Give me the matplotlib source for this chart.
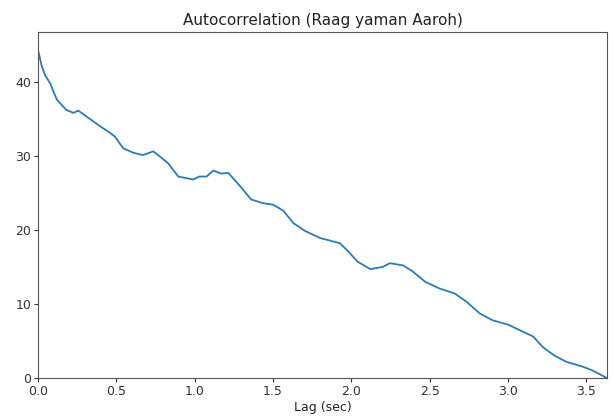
import numpy as np
import matplotlib
matplotlib.use("Agg")
import matplotlib.pyplot as plt

# valeurs (lag en secondes, autocorrelation)
lag = [0.0, 0.024, 0.045, 0.077, 0.12, 0.18, 0.225, 0.257, 0.31, 0.395, 0.46, 0.49,
       0.544, 0.61, 0.67, 0.735, 0.778, 0.83, 0.895, 0.99, 1.03, 1.076, 1.118, 1.17,
       1.214, 1.29, 1.36, 1.437, 1.50, 1.565, 1.63, 1.70, 1.80, 1.926, 1.97, 2.04,
       2.12, 2.20, 2.245, 2.33, 2.39, 2.47, 2.56, 2.66, 2.734, 2.82, 2.90, 3.0,
       3.07, 3.16, 3.22, 3.29, 3.37, 3.48, 3.54, 3.63]
acf = [44.3, 42.1, 40.9, 39.8, 37.6, 36.2, 35.8, 36.1, 35.3, 34.0, 33.1, 32.6,
       31.0, 30.4, 30.1, 30.6, 29.9, 29.0, 27.2, 26.8, 27.2, 27.2, 28.0, 27.6,
       27.7, 25.9, 24.1, 23.6, 23.4, 22.6, 20.9, 19.9, 18.9, 18.2, 17.3, 15.7,
       14.7, 15.0, 15.5, 15.2, 14.4, 13.0, 12.1, 11.4, 10.3, 8.7, 7.8, 7.2,
       6.5, 5.6, 4.2, 3.1, 2.2, 1.5, 1.0, 0.0]

fig = plt.figure(figsize=(6.13, 4.17), dpi=100)
ax = fig.add_axes([0.062, 0.0935, 0.928, 0.8295])
ax.plot(lag, acf, color='#2b7bba', lw=1.3)
ax.set_xlim(0, lag[-1])
ax.set_ylim(0, 46.7)
ax.set_xticks([0.0, 0.5, 1.0, 1.5, 2.0, 2.5, 3.0, 3.5])
ax.set_yticks([0, 10, 20, 30, 40])
ax.tick_params(labelsize=9, length=3, pad=2, colors='#333333')
ax.set_title("Autocorrelation (Raag yaman Aaroh)", fontsize=11, pad=5, color='#222222')
ax.set_xlabel("Lag (sec)", fontsize=9, labelpad=2, color='#222222')
for s in ax.spines.values():
    s.set_color('#555555')

fig.savefig("out.png", dpi=100)
